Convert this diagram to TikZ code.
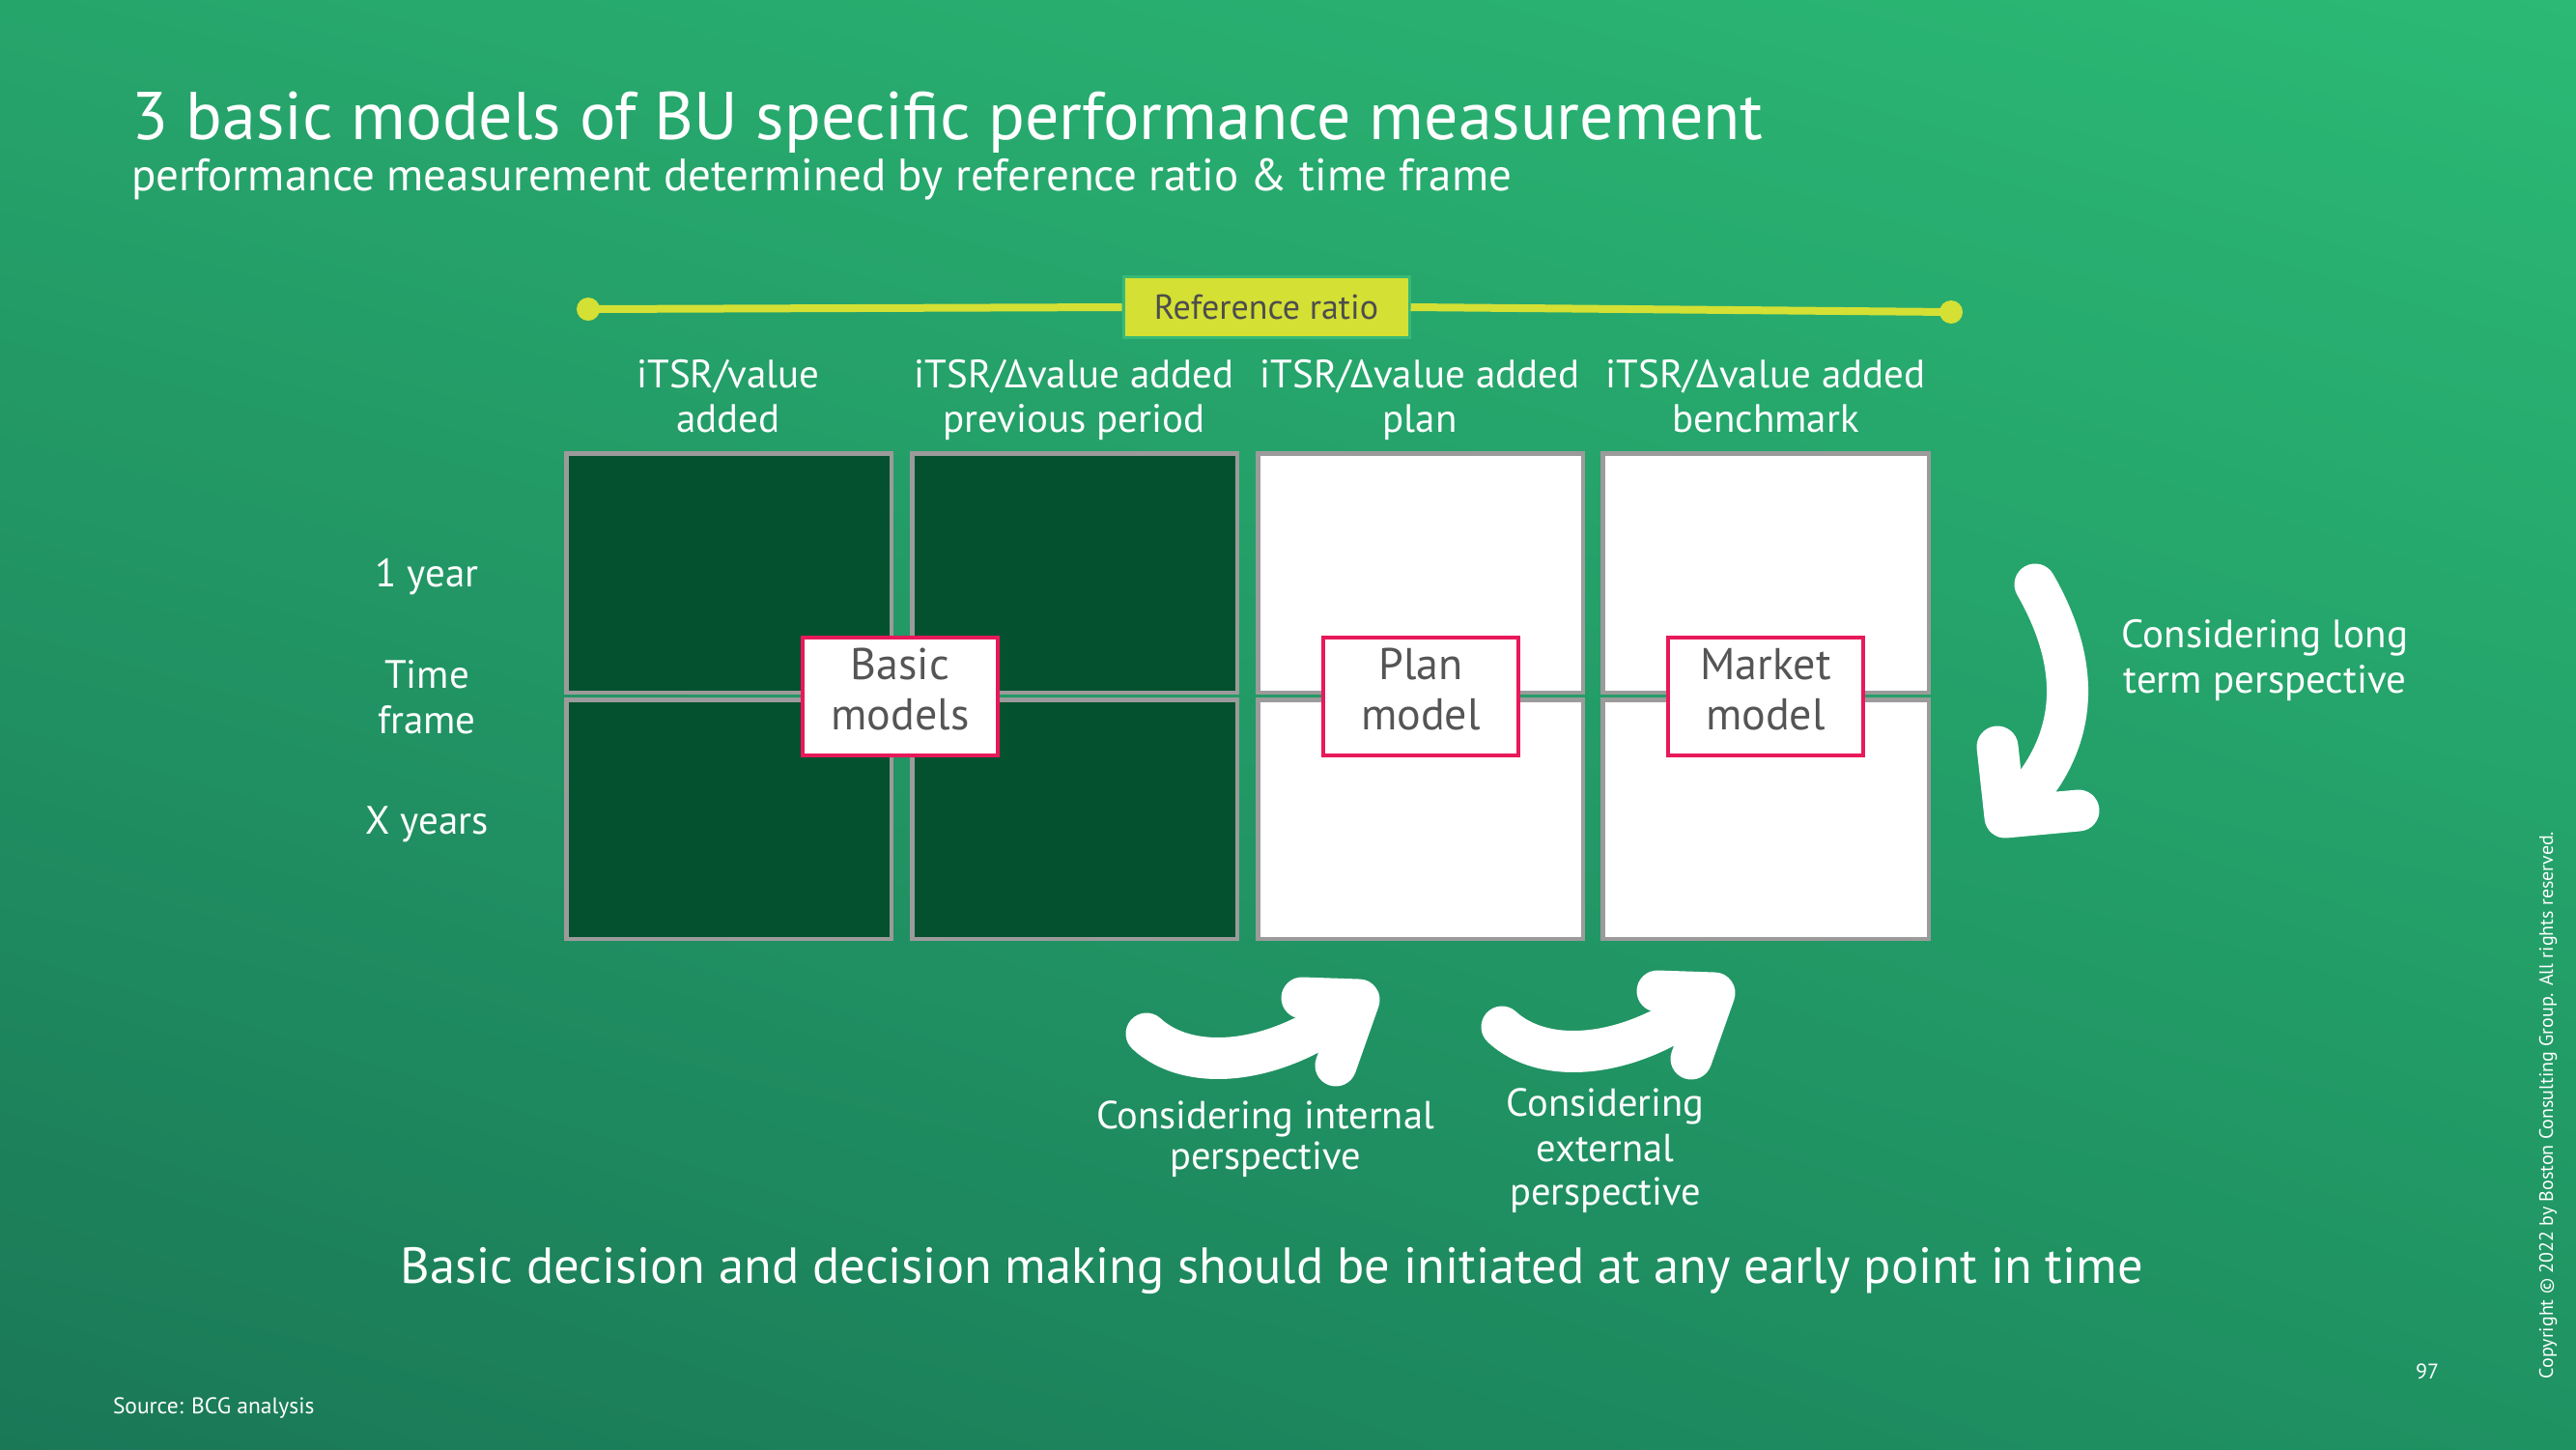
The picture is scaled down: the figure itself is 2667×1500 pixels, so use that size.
\documentclass[tikz,border=0pt]{standalone}
\usepackage{fontspec}
\setmainfont{PT Sans}
\usetikzlibrary{shadings}
\definecolor{bgTL}{HTML}{26A56B}
\definecolor{bgTR}{HTML}{2BB975}
\definecolor{bgBL}{HTML}{1A7857}
\definecolor{bgBR}{HTML}{1F9262}
\definecolor{dkgreen}{HTML}{03512F}
\definecolor{cellgray}{HTML}{9B9B9B}
\definecolor{crimson}{HTML}{E8195A}
\definecolor{modeltext}{HTML}{555555}
\definecolor{yel}{HTML}{D4E034}
\definecolor{refborder}{HTML}{38B977}
\definecolor{reftext}{HTML}{4D4D4D}
\begin{document}
\begin{tikzpicture}[x=1pt,y=-1pt,
  txt/.style={inner sep=0pt, outer sep=0pt, text=white, anchor=base},
  hdr/.style={txt, font=\fontsize{41}{48}\selectfont},
  lbl/.style={txt, font=\fontsize{40.5}{48}\selectfont},
  darkcell/.style={draw=cellgray, line width=4.5pt, fill=dkgreen},
  whitecell/.style={draw=cellgray, line width=4.5pt, fill=white},
  modelbox/.style={draw=crimson, line width=4.5pt, fill=white, inner sep=0pt,
     minimum width=202pt, minimum height=122pt},
  mtext/.style={txt, text=modeltext, font=\fontsize{46}{52}\selectfont},
  refline/.style={draw=yel, line width=8pt},
  bigarrow/.style={draw=white, line width=43pt, line cap=round, line join=round}
]
\useasboundingbox (0,0) rectangle (2667,1500);
\shade[upper left=bgTL, upper right=bgTR, lower left=bgBL, lower right=bgBR] (0,0) rectangle (2667,1500);

% title
\node[txt, anchor=base west, font=\fontsize{70}{80}\selectfont] (title) at (136,144) {3 basic models of BU specific performance measurement};
\node[txt, anchor=base west, font=\fontsize{47}{52}\selectfont] (subtitle) at (136,197) {performance measurement determined by reference ratio \& time frame};

% reference ratio bar
\coordinate (dl) at (609,320);
\coordinate (dr) at (2020,323);
\node[draw=refborder, line width=3pt, fill=yel, minimum width=296pt, minimum height=63pt, inner sep=0pt,
      text=reftext, font=\fontsize{36}{40}\selectfont] (ref) at (1311,318) {Reference ratio};
\draw[refline] (dl) -- (ref.west);
\draw[refline] (ref.east) -- (dr);
\fill[yel] (dl) circle (12pt);
\fill[yel] (dr) circle (12pt);

% column headers
\node[hdr] (h1a) at (754,401) {iTSR/value};
\node[hdr] (h1b) at (754,447) {added};
\node[hdr] (h2a) at (1112,401) {iTSR/Δvalue added};
\node[hdr] (h2b) at (1112,447) {previous period};
\node[hdr] (h3a) at (1470,401) {iTSR/Δvalue added};
\node[hdr] (h3b) at (1470,447) {plan};
\node[hdr] (h4a) at (1828,401) {iTSR/Δvalue added};
\node[hdr] (h4b) at (1828,447) {benchmark};

% row labels
\node[hdr] (r1) at (442,607) {1 year};
\node[hdr] (r2a) at (442,712) {Time};
\node[hdr] (r2b) at (442,759) {frame};
\node[hdr] (r3) at (442,863) {X years};

% grid cells
\draw[darkcell] (586.25,469.25) rectangle (922.75,716.75);
\draw[darkcell] (944.25,469.25) rectangle (1280.75,716.75);
\draw[whitecell] (1302.25,469.25) rectangle (1638.75,716.75);
\draw[whitecell] (1659.25,469.25) rectangle (1996.75,716.75);
\draw[darkcell] (586.25,724.25) rectangle (922.75,971.75);
\draw[darkcell] (944.25,724.25) rectangle (1280.75,971.75);
\draw[whitecell] (1302.25,724.25) rectangle (1638.75,971.75);
\draw[whitecell] (1659.25,724.25) rectangle (1996.75,971.75);

% model boxes
\node[modelbox] (basic) at (932,721) {};
\node[mtext] (basic1) at (932,703) {Basic};
\node[mtext] (basic2) at (932,755) {models};
\node[modelbox] (plan) at (1471,721) {};
\node[mtext] (plan1) at (1471,703) {Plan};
\node[mtext] (plan2) at (1471,755) {model};
\node[modelbox] (market) at (1828,721) {};
\node[mtext] (market1) at (1828,703) {Market};
\node[mtext] (market2) at (1828,755) {model};

% long term arrow
\draw[bigarrow] (2107,605) .. controls (2150,680) and (2162,765) .. (2080,843);
\draw[bigarrow] (2068,773) -- (2076,846) -- (2152,839);
\node[lbl, font=\fontsize{41}{48}\selectfont] (lt1) at (2345,670) {Considering long};
\node[lbl, font=\fontsize{41}{48}\selectfont] (lt2) at (2345,717) {term perspective};

% internal arrow
\draw[bigarrow] (1187,1070) .. controls (1230,1110) and (1320,1105) .. (1402,1040);
\draw[bigarrow] (1348,1033) -- (1407,1035) -- (1383,1103);
\node[lbl] (in1) at (1310,1168) {Considering internal};
\node[lbl] (in2) at (1310,1210) {perspective};

% external arrow
\begin{scope}[shift={(368,-7)}]
\draw[bigarrow] (1187,1070) .. controls (1230,1110) and (1320,1105) .. (1402,1040);
\draw[bigarrow] (1348,1033) -- (1407,1035) -- (1383,1103);
\end{scope}
\node[lbl] (ex1) at (1662,1155) {Considering};
\node[lbl] (ex2) at (1662,1202) {external};
\node[lbl] (ex3) at (1662,1247) {perspective};

% bottom statement
\node[txt, font=\fontsize{52.5}{60}\selectfont] (stmt) at (1317,1328) {Basic decision and decision making should be initiated at any early point in time};

% footer
\node[txt, anchor=base west, font=\fontsize{23.5}{28}\selectfont] (src) at (117,1463) {Source: BCG analysis};
\node[txt, font=\fontsize{22}{25}\selectfont] (pg) at (2513,1427) {97};
\node[txt, anchor=center, rotate=90, font=\fontsize{20}{23}\selectfont] (copy) at (2638,1144) {Copyright © 2022 by Boston Consulting Group. All rights reserved.};
\end{tikzpicture}
\end{document}
